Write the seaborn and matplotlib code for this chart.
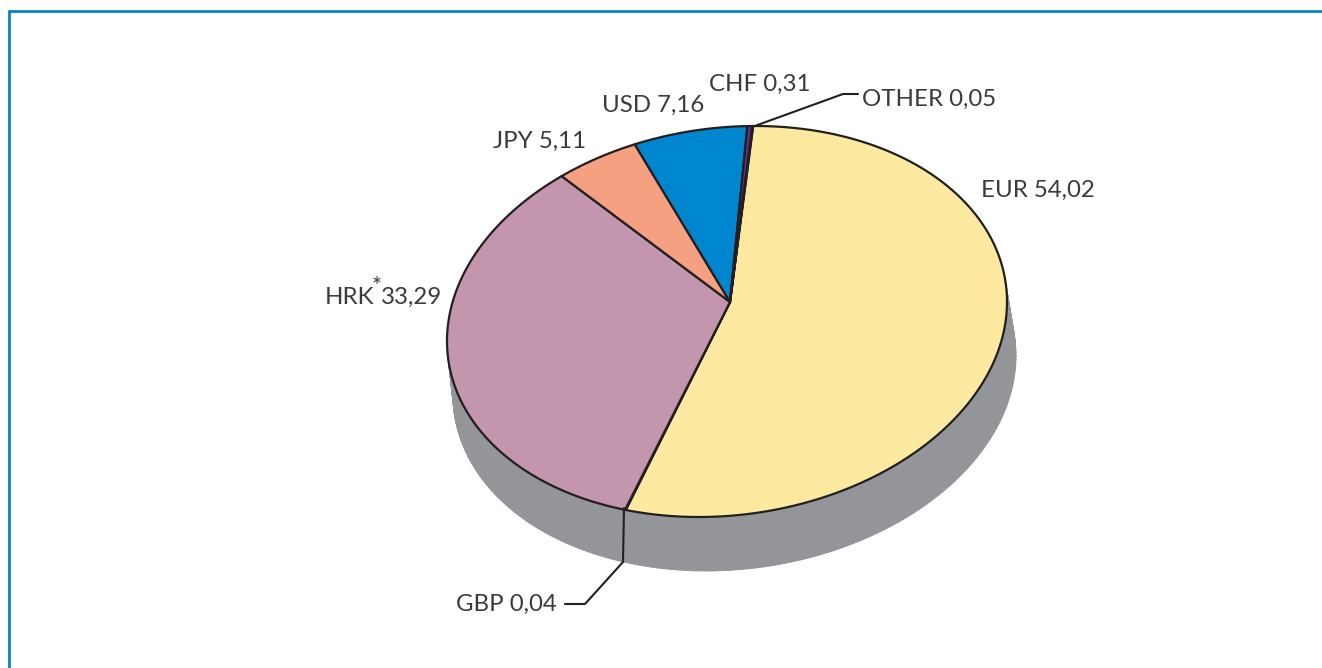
import matplotlib
matplotlib.use("Agg")
import matplotlib.pyplot as plt
import numpy as np
import seaborn as sns
from matplotlib.collections import PolyCollection

currencies = ["EUR", "GBP", "HRK", "JPY", "USD", "CHF", "OTHER"]
shares = [54.02, 0.04, 33.29, 5.11, 7.16, 0.31, 0.05]
slice_colors = ["#fee9a0", "#c9c9c9", "#c496ad", "#f5a081", "#0085cf", "#662d91", "#1b1b1b"]

label_pos = {
    "EUR": (981, 190),
    "GBP": (456, 604),
    "HRK": (325, 297),
    "JPY": (493, 141),
    "USD": (602, 105),
    "CHF": (709, 84),
    "OTHER": (862, 99),
}

INK = "#231f20"
TEXT = "#3b3b3d"
SIDE = "#939598"
FRAME = "#0a82c0"

# tilted ellipse of the pie top, in pixels
center = np.array([727.0, 321.5])
apex = np.array([730.0, 302.0])
shape = np.linalg.cholesky(np.array([[280.0**2, -5500.0], [-5500.0, 195.5**2]]))
shape_inv = np.linalg.inv(shape)
p = shape_inv @ (apex - center)
t = np.linalg.norm(p)
e = p / t


def shift_disk(q, amount):
    # projective map of the unit disk onto itself, moves the centre along e
    par = q @ e
    perp = q - np.outer(par, e)
    den = 1 + amount * par
    return (np.outer(par + amount, e) + np.sqrt(1 - amount**2) * perp) / den[:, None]


def project(angles_deg):
    a = np.radians(angles_deg)
    q = np.column_stack([np.cos(a), -np.sin(a)])
    return center + shift_disk(q, t) @ shape.T


def start_angle(point):
    q = (shape_inv @ (np.array(point) - center))[None, :]
    q = shift_disk(q, -t)[0]
    return np.degrees(np.arctan2(-q[1], q[0]))


sns.set_theme(style="white")
plt.rcParams["font.family"] = ["Lato", "DejaVu Sans"]

fig = plt.figure(figsize=(13.22, 6.68), dpi=100)
ax = fig.add_axes([0, 0, 1, 1])

wedges, _ = ax.pie(
    shares, startangle=start_angle((753, 127)), counterclock=False, colors=slice_colors
)
thetas = [(w.theta1, w.theta2, w.get_facecolor()) for w in wedges]
for w in wedges:
    w.remove()
ax.set_xlim(0, 1322)
ax.set_ylim(668, 0)
ax.axis("off")

# side of the disc
ring = np.linspace(0, 360, 361)
top = project(ring)
bottom = (top - center) * np.array([281.5 / 280, 1.0]) + center + np.array([7.5, 54.0])
quads = [[top[i], top[i + 1], bottom[i + 1], bottom[i]] for i in range(len(ring) - 1)]
ax.add_collection(PolyCollection(quads, facecolors=SIDE, edgecolors=SIDE, linewidths=0.6, zorder=1))

for theta1, theta2, color in thetas:
    arc = project(np.linspace(theta1, theta2, 300))
    pts = np.vstack([apex, arc])
    ax.fill(pts[:, 0], pts[:, 1], facecolor=color, edgecolor=INK, linewidth=1.6,
            joinstyle="round", zorder=2)

# leaders
ax.plot([624, 623, 585, 565], [508, 562, 604, 604], color=INK, lw=1.5, zorder=3)
ax.plot([752, 843, 858], [127, 94, 94], color=INK, lw=1.5, zorder=3)

for name, value in zip(currencies, shares):
    x, y = label_pos[name]
    txt = f"{value:.2f}".replace(".", ",")
    if name == "HRK":
        ax.text(x, y, name, color=TEXT, fontsize=17.3, va="center", ha="left")
        ax.text(x + 47, y - 11, "*", color=TEXT, fontsize=17, va="center", ha="left")
        ax.text(x + 56, y, txt, color=TEXT, fontsize=17.3, va="center", ha="left")
    else:
        ax.text(x, y, f"{name} {txt}", color=TEXT, fontsize=17.3, va="center", ha="left")

# frame, left and top only
ax.plot([9.2, 9.2, 1322], [668, 11.2, 11.2], color=FRAME, lw=2.0, solid_joinstyle="miter")

fig.savefig("out.png", dpi=100)
plt.close(fig)
